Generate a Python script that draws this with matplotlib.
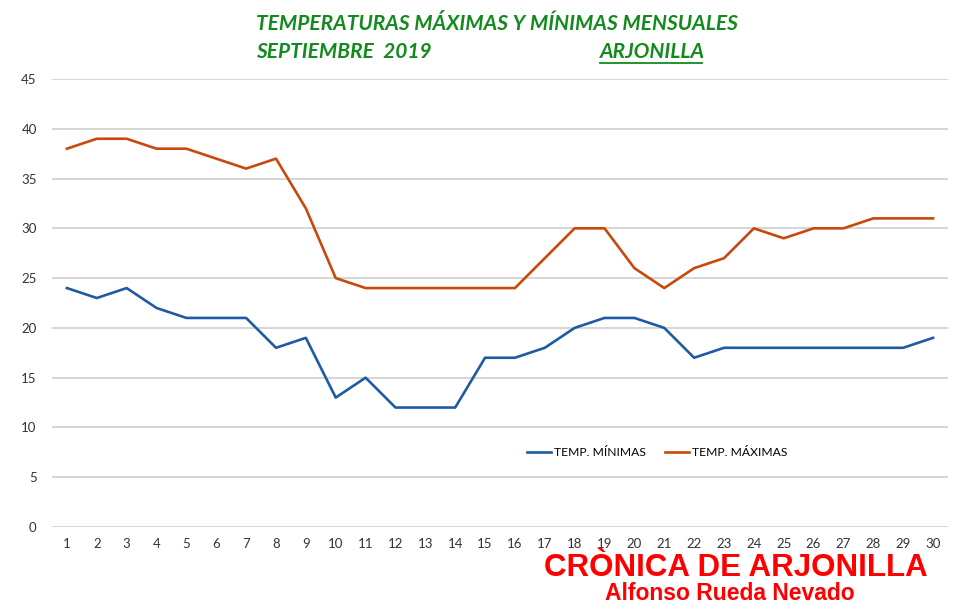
import matplotlib.pyplot as plt
from matplotlib.lines import Line2D
import numpy as np

#=================================================================================
# data
dias = list(range(1, 31))
temp_max = [38, 39, 39, 38, 38, 37, 36, 37, 32, 25, 24, 24, 24, 24, 24,
            24, 27, 30, 30, 26, 24, 26, 27, 30, 29, 30, 30, 31, 31, 31]
temp_min = [24, 23, 24, 22, 21, 21, 21, 18, 19, 13, 15, 12, 12, 12, 17,
            17, 18, 20, 21, 21, 20, 17, 18, 18, 18, 18, 18, 18, 18, 19]
y_ticks = list(range(0, 50, 5))
#=================================================================================

plt.rcParams['font.family'] = ['Lato', 'DejaVu Sans']
fig = plt.figure(figsize=(9.6, 6.13), dpi=100)
W, H = 960, 613
# axes in pixel terms: left 52, right 948, top (45) 79, bottom (0) 527
ax = fig.add_axes([52 / W, 1 - 527 / H, (948 - 52) / W, (527 - 79) / H])

ax.plot(dias, temp_min, color='#1f5ba3', lw=1.9, label='TEMP. MÍNIMAS')
ax.plot(dias, temp_max, color='#c8490c', lw=1.9, label='TEMP. MÁXIMAS')

ax.set_xlim(0.5, 30.5)
ax.set_ylim(0, 45)
ax.set_yticks(y_ticks)
ax.set_xticks(dias)
ax.grid(axis='y', color='#d0d0d0', lw=1.2)
ax.set_axisbelow(True)
for s in ['top', 'right', 'left', 'bottom']:
    ax.spines[s].set_visible(False)
ax.tick_params(length=0, labelsize=9.5, colors='#333333')
ax.tick_params(axis='y', pad=11)
ax.tick_params(axis='x', pad=8)

ax.legend(loc='center', bbox_to_anchor=((657 - 52) / 896, (527 - 453) / 448),
          ncol=2, frameon=False, fontsize=8.7, handlelength=2.0,
          handletextpad=0.2, columnspacing=1.6)

# title
verde = '#138a1e'
fig.text(256 / W, 1 - 24 / H, 'TEMPERATURAS MÁXIMAS Y MÍNIMAS MENSUALES',
         color=verde, fontsize=15, fontweight='bold', fontstyle='italic',
         va='center', ha='left')
fig.text(256 / W, 1 - 52 / H, 'SEPTIEMBRE  2019',
         color=verde, fontsize=15, fontweight='bold', fontstyle='italic',
         va='center', ha='left')
fig.text(600 / W, 1 - 52 / H, 'ARJONILLA',
         color=verde, fontsize=15, fontweight='bold', fontstyle='italic',
         va='center', ha='left')
fig.add_artist(Line2D([600 / W, 702 / W], [1 - 63 / H, 1 - 63 / H],
                      color=verde, lw=1.3))

# watermark
fig.text(736 / W, 1 - 568 / H, 'CRÒNICA DE ARJONILLA', color='#ff0000',
         fontsize=22.5, fontweight='bold', family=['Liberation Sans', 'DejaVu Sans'],
         ha='center', va='center')
fig.text(730 / W, 1 - 594 / H, 'Alfonso Rueda Nevado', color='#ff0000',
         fontsize=16.5, fontweight='bold', family=['Liberation Sans', 'DejaVu Sans'],
         ha='center', va='center')

plt.savefig('out.png', dpi=100)
